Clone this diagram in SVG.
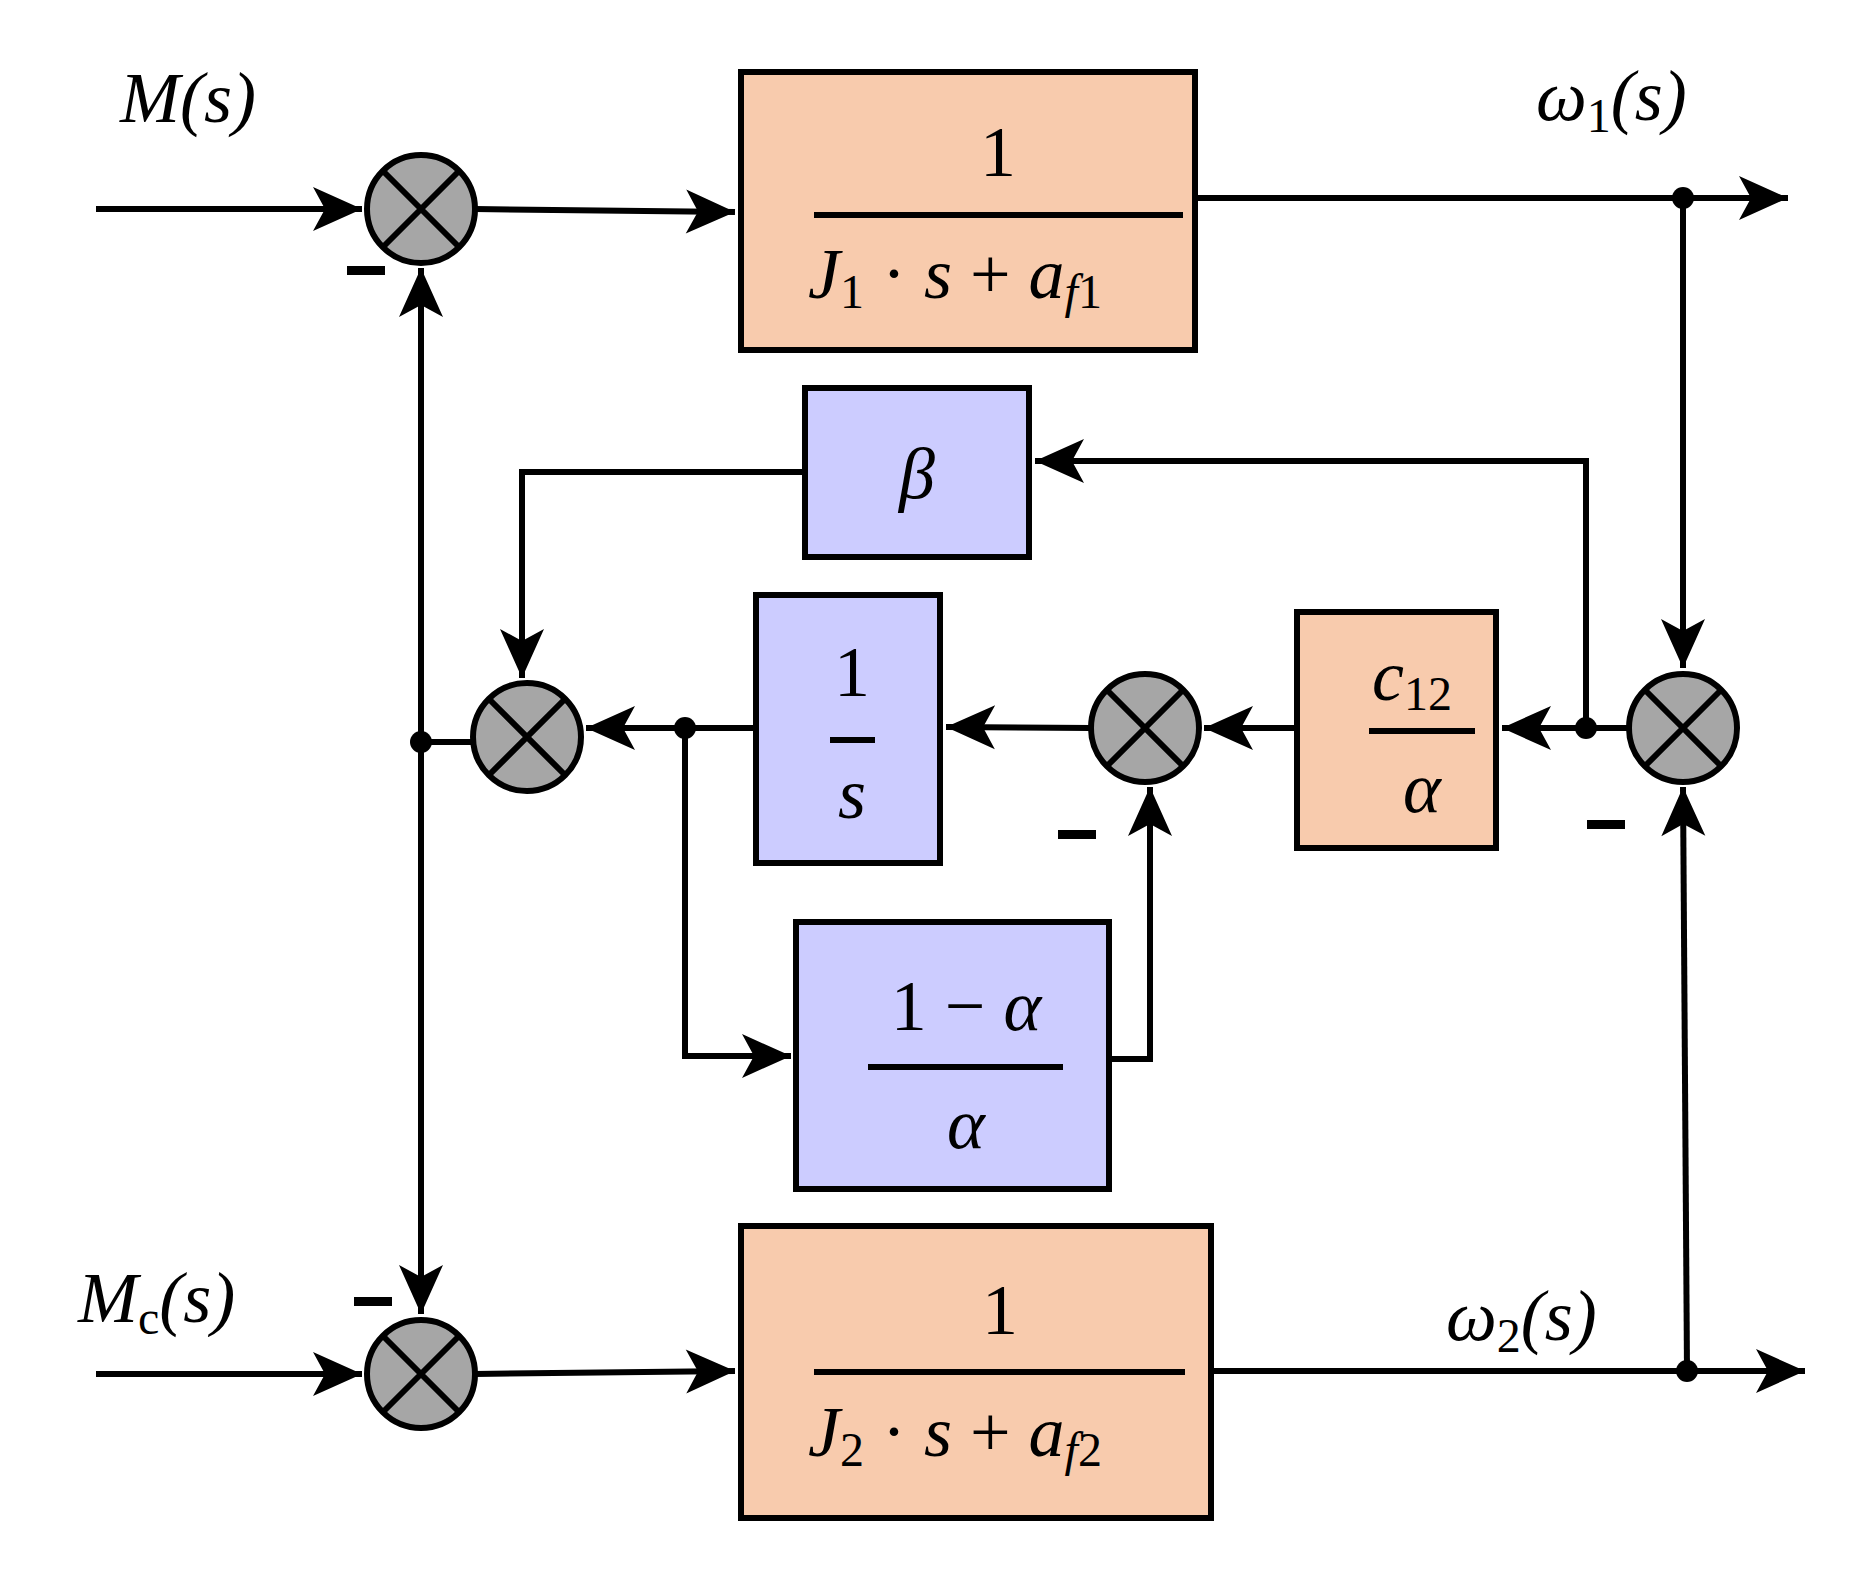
<svg xmlns="http://www.w3.org/2000/svg" width="1865" height="1578" viewBox="0 0 1865 1578">
<style>
.ln{stroke:#000;stroke-width:6;fill:none}
.o{fill:#f8cbad;stroke:#000;stroke-width:6}
.b{fill:#ccccff;stroke:#000;stroke-width:6}
.s{fill:#a6a6a6;stroke:#000;stroke-width:6}
.t{font-family:"Liberation Serif",serif;font-style:italic;font-size:72px;fill:#000}
.n{font-style:normal}
.sub{font-size:48px;font-style:normal}
.m{fill:#000}
</style>
<defs>
<marker id="a" markerWidth="10" markerHeight="10" refX="9" refY="5" orient="auto" markerUnits="userSpaceOnUse" viewBox="0 0 10 10" style="overflow:visible">
<path d="M-40,-17 L9,5 L-40,27 L-28,5 Z" transform="scale(1)" fill="#000"/>
</marker>
<g id="sj"><circle r="54" class="s"/><path d="M-38,-38 L38,38 M38,-38 L-38,38" stroke="#000" stroke-width="6"/></g>
</defs>
<g id="connectors">
<path class="ln" d="M96,209 H362" marker-end="url(#a)"/>
<path class="ln" d="M475,209 L735,212" marker-end="url(#a)"/>
<path class="ln" d="M1198,198 H1788" marker-end="url(#a)"/>
<path class="ln" d="M1683,198 V668" marker-end="url(#a)"/>
<path class="ln" d="M1687,1371 L1683,787" marker-end="url(#a)"/>
<path class="ln" d="M96,1374 H362" marker-end="url(#a)"/>
<path class="ln" d="M475,1374 L735,1371" marker-end="url(#a)"/>
<path class="ln" d="M1214,1371 H1805" marker-end="url(#a)"/>
<path class="ln" d="M421,742 V268" marker-end="url(#a)"/>
<path class="ln" d="M421,742 V1314" marker-end="url(#a)"/>
<path class="ln" d="M421,742 H473"/>
<path class="ln" d="M805,472 H522 V678" marker-end="url(#a)"/>
<path class="ln" d="M1586,728 V461 H1035" marker-end="url(#a)"/>
<path class="ln" d="M1629,728 H1502" marker-end="url(#a)"/>
<path class="ln" d="M1297,728 H1204" marker-end="url(#a)"/>
<path class="ln" d="M1091,728 L946,727" marker-end="url(#a)"/>
<path class="ln" d="M756,728 H586" marker-end="url(#a)"/>
<path class="ln" d="M685,728 V1056 H791" marker-end="url(#a)"/>
<path class="ln" d="M1112,1059 H1150 V787" marker-end="url(#a)"/>
<circle cx="1683" cy="198" r="11" class="m"/>
<circle cx="1687" cy="1371" r="11" class="m"/>
<circle cx="1586" cy="728" r="11" class="m"/>
<circle cx="685" cy="728" r="11" class="m"/>
<circle cx="421" cy="742" r="11" class="m"/>
</g>
<g id="sum1"><use href="#sj" x="421" y="209"/><rect x="347" y="266" width="38" height="9" class="m"/></g>
<g id="sum2"><use href="#sj" x="421" y="1374"/><rect x="354" y="1297" width="38" height="9" class="m"/></g>
<g id="sum3"><use href="#sj" x="527" y="737"/></g>
<g id="sum4"><use href="#sj" x="1145" y="728"/><rect x="1058" y="830" width="38" height="9" class="m"/></g>
<g id="sum5"><use href="#sj" x="1683" y="728"/><rect x="1587" y="820" width="38" height="9" class="m"/></g>
<g id="labels">
<text x="120" y="122" class="t">M(s)</text>
<text x="1536" y="120" class="t">ω<tspan class="sub" dy="12">1</tspan><tspan dy="-12">(s)</tspan></text>
<text x="78" y="1322" class="t">M<tspan class="sub" dy="12" font-style="italic">c</tspan><tspan dy="-12">(s)</tspan></text>
<text x="1446" y="1340" class="t">ω<tspan class="sub" dy="12">2</tspan><tspan dy="-12">(s)</tspan></text>
</g>
<g id="G1">
<rect x="741" y="72" width="454" height="278" class="o"/>
<text x="998" y="176" class="t n" text-anchor="middle">1</text>
<path d="M814,215 H1183" class="ln" stroke-width="5"/>
<text x="808" y="298" class="t">J<tspan class="sub" dy="10">1</tspan><tspan dy="-10" class="n"> · </tspan>s<tspan class="n"> + </tspan>a<tspan class="sub" dy="10"><tspan font-style="italic">f</tspan>1</tspan></text>
</g>
<g id="G2">
<rect x="741" y="1226" width="470" height="292" class="o"/>
<text x="1000" y="1334" class="t n" text-anchor="middle">1</text>
<path d="M814,1372 H1185" class="ln" stroke-width="5"/>
<text x="808" y="1456" class="t">J<tspan class="sub" dy="10">2</tspan><tspan dy="-10" class="n"> · </tspan>s<tspan class="n"> + </tspan>a<tspan class="sub" dy="10"><tspan font-style="italic">f</tspan>2</tspan></text>
</g>
<g id="beta">
<rect x="805" y="388" width="224" height="169" class="b"/>
<text x="917" y="498" class="t" text-anchor="middle">β</text>
</g>
<g id="integ">
<rect x="756" y="595" width="184" height="268" class="b"/>
<text x="852" y="696" class="t n" text-anchor="middle">1</text>
<path d="M830,740 H875" class="ln" stroke-width="4"/>
<text x="852" y="818" class="t" text-anchor="middle">s</text>
</g>
<g id="c12">
<rect x="1297" y="612" width="199" height="236" class="o"/>
<text x="1372" y="700" class="t">c<tspan class="sub" dy="10">12</tspan></text>
<path d="M1369,731 H1475" class="ln" stroke-width="4"/>
<text x="1422" y="812" class="t" text-anchor="middle">α</text>
</g>
<g id="ka">
<rect x="796" y="922" width="313" height="267" class="b"/>
<text x="966" y="1030" class="t" text-anchor="middle"><tspan class="n">1 − </tspan>α</text>
<path d="M868,1067 H1063" class="ln" stroke-width="4"/>
<text x="966" y="1148" class="t" text-anchor="middle">α</text>
</g>
</svg>
